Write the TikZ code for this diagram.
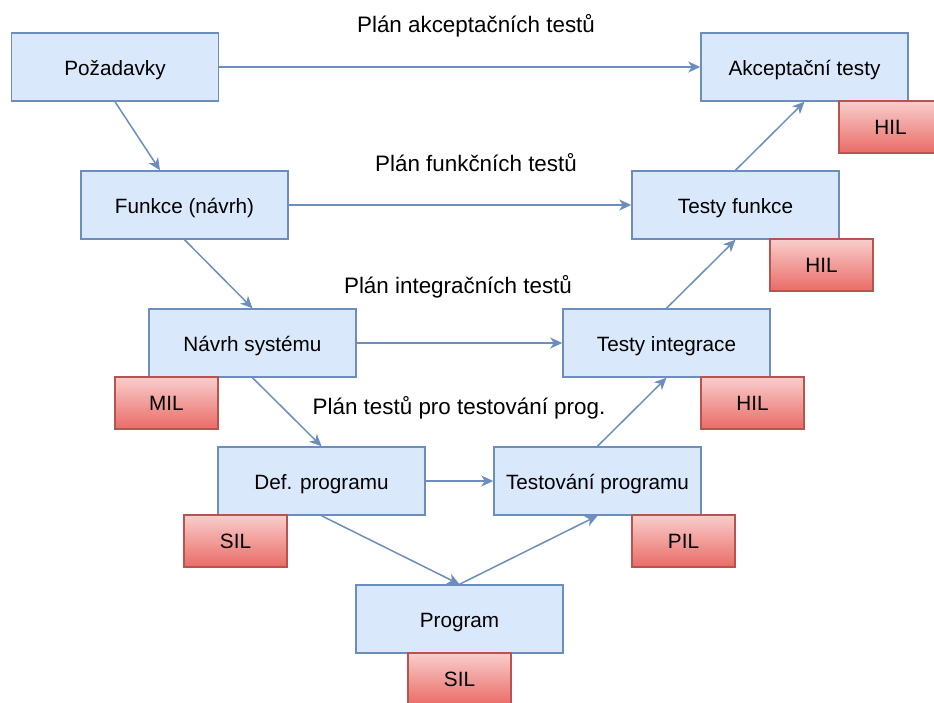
\documentclass[tikz,border=0pt]{standalone}
\usepackage{fontspec}
\setmainfont{Liberation Sans}
\usetikzlibrary{arrows.meta}
\definecolor{boxfill}{HTML}{DAE8FC}
\definecolor{boxline}{HTML}{6C8EBF}
\definecolor{tagtop}{HTML}{F8CECC}
\definecolor{tagbottom}{HTML}{EA6B66}
\definecolor{tagline}{HTML}{B85450}
\begin{document}
\begin{tikzpicture}[x=1pt,y=-1pt,
  phase/.style={draw=boxline,fill=boxfill,line width=1.5pt,
    minimum width=207pt,minimum height=68pt,inner sep=0pt,
    font=\fontsize{20.7}{24}\selectfont,text height=16.2pt,text depth=0pt},
  tag/.style={draw=tagline,top color=tagtop,bottom color=tagbottom,line width=1.5pt,
    minimum width=103pt,minimum height=52pt,inner sep=0pt,
    font=\fontsize{20.7}{24}\selectfont,text height=15.2pt,text depth=0pt},
  plan/.style={inner sep=0pt,font=\fontsize{22.4}{26}\selectfont,text height=15.4pt,text depth=0pt},
  flow/.style={draw=boxline,line width=1.5pt,
    -{Stealth[length=12pt,width=11pt,inset=3.5pt]}}]
\useasboundingbox (0,0) rectangle (934,702);
\clip (0,0) rectangle (934,702);

% left branch: specification
\node[phase] (poz) at (115,67)   {Požadavky};
\node[phase] (fun) at (184.5,205) {Funkce (návrh)};
\node[phase] (nav) at (252.5,343) {Návrh systému};
\node[phase] (def) at (321.5,481) {Def. programu};
\node[phase] (prg) at (459.5,619) {Program};

% right branch: testing
\node[phase] (akc) at (804.5,67)  {Akceptační testy};
\node[phase] (tfu) at (735.5,205) {Testy funkce};
\node[phase] (tin) at (666.5,343) {Testy integrace};
\node[phase] (tpr) at (597.5,481) {Testování programu};

% simulation tags
\node[tag] (hil1) at (890.5,127) {HIL};
\node[tag] (hil2) at (821.5,265) {HIL};
\node[tag] (hil3) at (752.5,403) {HIL};
\node[tag] (mil)  at (166.5,403) {MIL};
\node[tag] (sil1) at (235.5,541) {SIL};
\node[tag] (pil)  at (683.5,541) {PIL};
\node[tag] (sil2) at (459.5,679) {SIL};

% test plan labels
\node[plan] (pl1) at (476,25)    {Plán akceptačních testů};
\node[plan] (pl2) at (476,163.5) {Plán funkčních testů};
\node[plan] (pl3) at (458,285.5) {Plán integračních testů};
\node[plan] (pl4) at (459,406.5) {Plán testů pro testování prog.};

% descending branch
\draw[flow] (poz.south) -- ([xshift=-24.5pt]fun.north);
\draw[flow] (fun.south) -- (nav.north);
\draw[flow] (nav.south) -- (def.north);
\draw[flow] (def.south) -- (prg.north);

% ascending branch
\draw[flow] (prg.north) -- (tpr.south);
\draw[flow] (tpr.north) -- (tin.south);
\draw[flow] (tin.north) -- (tfu.south);
\draw[flow] (tfu.north) -- (akc.south);

% test plans
\draw[flow] (poz.east) -- (akc.west);
\draw[flow] (fun.east) -- (tfu.west);
\draw[flow] (nav.east) -- (tin.west);
\draw[flow] (def.east) -- (tpr.west);
\end{tikzpicture}
\end{document}
